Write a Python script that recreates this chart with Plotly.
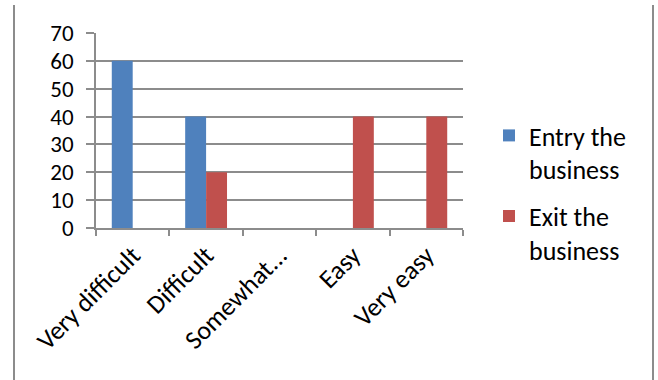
import plotly.graph_objects as go

categories = ["Very difficult", "Difficult", "Somewhat...", "Easy", "Very easy"]
entry_vals = [60, 40, 0, 0, 0]
exit_vals = [0, 20, 0, 40, 40]
series_names = ["Entry the<br>business", "Exit the<br>business"]
y_ticks = [0, 10, 20, 30, 40, 50, 60, 70]

FONT = "Carlito, Calibri, Lato, sans-serif"
GRID = "#8c8c8c"
FS = 26

fig = go.Figure()
fig.add_trace(go.Bar(x=categories, y=entry_vals, name=series_names[0],
                     legendgroup="entry",
                     marker=dict(color="#4F81BD", line=dict(width=0))))
fig.add_trace(go.Bar(x=categories, y=exit_vals, name=series_names[1],
                     legendgroup="exit",
                     marker=dict(color="#C0504D", line=dict(width=0))))

L, R, T, B = 96, 463, 33, 228
W, H = 658, 380

def px(x):
    return (x - L) / (R - L)

def py(y):
    return (B - y) / (B - T)

fig.update_layout(
    width=W, height=H,
    margin=dict(l=L, r=W - R, t=T, b=H - B, pad=0),
    paper_bgcolor="white", plot_bgcolor="white",
    barmode="group", bargap=0.43, bargroupgap=0,
    font=dict(family=FONT, size=FS, color="black"),
    showlegend=True,
    legend=dict(x=px(489), y=py(112), xanchor="left", yanchor="top",
                font=dict(family=FONT, size=FS, color="black"),
                tracegroupgap=10, itemsizing="constant", valign="top",
                bgcolor="rgba(0,0,0,0)"),
    xaxis=dict(type="category", tickangle=-45, showgrid=False,
               showline=True, linecolor=GRID, linewidth=1.5,
               ticks="outside", tickson="boundaries", ticklen=6,
               tickcolor=GRID, tickwidth=1.5,
               tickfont=dict(family=FONT, size=FS, color="black")),
    yaxis=dict(range=[0, 70], tickvals=y_ticks, showgrid=True,
               gridcolor=GRID, gridwidth=1.5, zeroline=False,
               showline=True, linecolor=GRID, linewidth=1.5,
               ticks="outside", ticklen=8, tickcolor=GRID, tickwidth=1.5,
               ticklabelstandoff=8,
               tickfont=dict(family=FONT, size=23, color="black")),
    shapes=[
        dict(type="line", xref="paper", yref="paper",
             x0=px(14), x1=px(14), y0=py(5), y1=py(381),
             line=dict(color="#8c8c8c", width=2)),
        dict(type="line", xref="paper", yref="paper",
             x0=px(653), x1=px(653), y0=py(5), y1=py(381),
             line=dict(color="#8c8c8c", width=2)),
    ],
)

fig.write_html("out.html")
